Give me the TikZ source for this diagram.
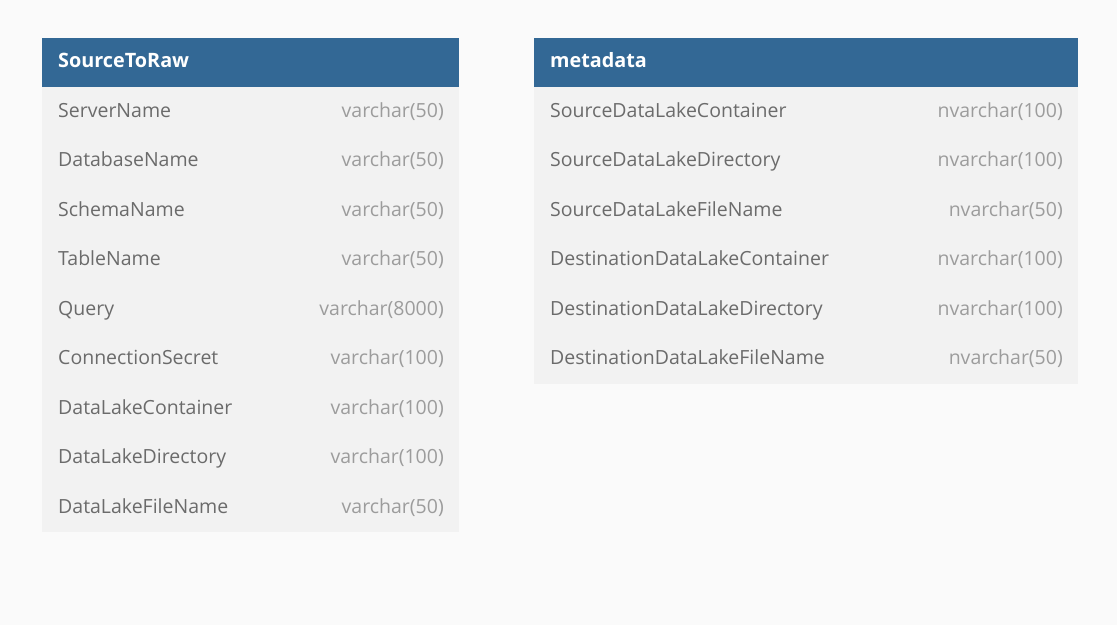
\documentclass[tikz,border=0pt]{standalone}
\usepackage{fontspec}
\setmainfont{Open Sans}
\definecolor{hdrblue}{HTML}{336895}
\definecolor{rowgray}{HTML}{F2F2F2}
\definecolor{pagebg}{HTML}{FAFAFA}
\definecolor{colname}{HTML}{6B6B6B}
\definecolor{coltype}{HTML}{9C9C9C}
\tikzset{
	tblhead/.style={anchor=base west,inner sep=0pt,text=white,font=\fontsize{19.8}{22}\selectfont\bfseries},
	fname/.style={anchor=base west,inner sep=0pt,text=colname,font=\fontsize{19.5}{22}\selectfont},
	ftype/.style={anchor=base east,inner sep=0pt,text=coltype,font=\fontsize{19.5}{22}\selectfont}
}

\begin{document}
\begin{tikzpicture}[line cap=round,line join=round,x=1pt,y=-1pt]
	\fill [pagebg] (0,0) rectangle (1117,625);
	\useasboundingbox (0,0) rectangle (1117,625);
	% SourceToRaw
	\fill [hdrblue] (42,38) rectangle (459,87);
	\fill [rowgray] (42,87) rectangle (459,532);
	\node [tblhead] (srcHead) at (58,67) {SourceToRaw};
	\node [fname] (srcN1) at (58,117) {ServerName};
	\node [ftype] (srcT1) at (444,117) {varchar(50)};
	\node [fname] (srcN2) at (58,166.5) {DatabaseName};
	\node [ftype] (srcT2) at (444,166.5) {varchar(50)};
	\node [fname] (srcN3) at (58,216) {SchemaName};
	\node [ftype] (srcT3) at (444,216) {varchar(50)};
	\node [fname] (srcN4) at (58,265.5) {TableName};
	\node [ftype] (srcT4) at (444,265.5) {varchar(50)};
	\node [fname] (srcN5) at (58,315) {Query};
	\node [ftype] (srcT5) at (444,315) {varchar(8000)};
	\node [fname] (srcN6) at (58,364.5) {ConnectionSecret};
	\node [ftype] (srcT6) at (444,364.5) {varchar(100)};
	\node [fname] (srcN7) at (58,414) {DataLakeContainer};
	\node [ftype] (srcT7) at (444,414) {varchar(100)};
	\node [fname] (srcN8) at (58,463.5) {DataLakeDirectory};
	\node [ftype] (srcT8) at (444,463.5) {varchar(100)};
	\node [fname] (srcN9) at (58,513) {DataLakeFileName};
	\node [ftype] (srcT9) at (444,513) {varchar(50)};
	% metadata
	\fill [hdrblue] (534,38) rectangle (1078,87);
	\fill [rowgray] (534,87) rectangle (1078,384);
	\node [tblhead] (metaHead) at (550,67) {metadata};
	\node [fname] (metaN1) at (550,117) {SourceDataLakeContainer};
	\node [ftype] (metaT1) at (1063,117) {nvarchar(100)};
	\node [fname] (metaN2) at (550,166.5) {SourceDataLakeDirectory};
	\node [ftype] (metaT2) at (1063,166.5) {nvarchar(100)};
	\node [fname] (metaN3) at (550,216) {SourceDataLakeFileName};
	\node [ftype] (metaT3) at (1063,216) {nvarchar(50)};
	\node [fname] (metaN4) at (550,265.5) {DestinationDataLakeContainer};
	\node [ftype] (metaT4) at (1063,265.5) {nvarchar(100)};
	\node [fname] (metaN5) at (550,315) {DestinationDataLakeDirectory};
	\node [ftype] (metaT5) at (1063,315) {nvarchar(100)};
	\node [fname] (metaN6) at (550,364.5) {DestinationDataLakeFileName};
	\node [ftype] (metaT6) at (1063,364.5) {nvarchar(50)};
\end{tikzpicture}
\end{document}
